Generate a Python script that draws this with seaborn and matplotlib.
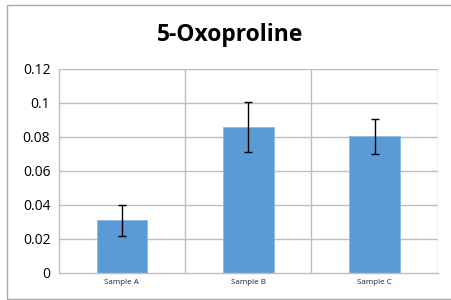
import matplotlib
matplotlib.use('Agg')
import matplotlib.pyplot as plt
import seaborn as sns
import pandas as pd
import numpy as np
from matplotlib.patches import Rectangle

samples = ['Sample A', 'Sample B', 'Sample C']
values = [0.031, 0.0857, 0.0804]
errors = [0.0091, 0.0148, 0.0104]
yticks = [0, 0.02, 0.04, 0.06, 0.08, 0.1, 0.12]
ytick_labels = ['0', '0.02', '0.04', '0.06', '0.08', '0.1', '0.12']

df = pd.DataFrame({'Sample': samples, 'Value': values})

sns.set_theme(style='white')
plt.rcParams['font.family'] = ['Open Sans', 'DejaVu Sans']
plt.rcParams['text.color'] = 'black'
plt.rcParams['xtick.labelcolor'] = 'black'
plt.rcParams['ytick.labelcolor'] = 'black'

fig = plt.figure(figsize=(4.51, 3.0), dpi=100)
ax = fig.add_axes([0.130, 0.09, 0.841, 0.68])

sns.barplot(data=df, x='Sample', y='Value', color='#5B9BD5', width=0.4,
            saturation=1, errorbar=None, edgecolor='#8DB9E6', linewidth=0.6, ax=ax)
ax.errorbar(range(len(samples)), values, yerr=errors, fmt='none',
            ecolor='black', elinewidth=1, capsize=3, capthick=1)

grid = '#BEBEBE'
ax.set_xlim(-0.5, 2.5)
ax.set_ylim(0, 0.12)
ax.set_yticks(yticks)
ax.set_yticklabels(ytick_labels, fontsize=10, color='black')
ax.set_xticks(range(len(samples)))
ax.set_xticklabels(samples, fontsize=5.8, color='#222222')
ax.set_xticks(np.arange(-0.5, 3.0, 1.0), minor=True)
ax.tick_params(axis='x', which='major', length=0, pad=4)
ax.tick_params(axis='x', which='minor', length=4, color=grid, width=1, direction='out')
ax.tick_params(axis='y', length=4, color=grid, width=1, direction='out', pad=2)
ax.set_xlabel('')
ax.set_ylabel('')

for y in yticks[1:]:
    ax.axhline(y, color=grid, lw=1, zorder=0)
for x in [0.5, 1.5, 2.5]:
    ax.axvline(x, color=grid, lw=1, zorder=0)

for side in ['top', 'right']:
    ax.spines[side].set_visible(False)
for side in ['left', 'bottom']:
    ax.spines[side].set_color(grid)
    ax.spines[side].set_linewidth(1)

fig.text(0.51, 0.882, '5-Oxoproline', ha='center', va='center',
         fontsize=16.5, fontweight='bold', color='black')

fig.patches.append(Rectangle((7 / 451, 1 / 300), 1.2, 294 / 300,
                             transform=fig.transFigure, fill=False,
                             edgecolor='#A6A6A6', lw=1))

fig.savefig('out.png', dpi=100)
